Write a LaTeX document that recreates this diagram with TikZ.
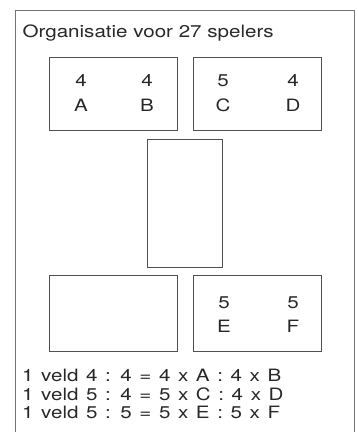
\documentclass[tikz,border=0pt]{standalone}
\usepackage{fontspec}
\setmainfont{TeX Gyre Heros}[FakeStretch=1.21]
\usetikzlibrary{positioning}
\definecolor{framecolor}{RGB}{115,115,115}
\definecolor{fieldcolor}{RGB}{80,80,80}
\definecolor{textcolor}{RGB}{40,40,40}
\newcommand{\ruimspatie}{\spaceskip 7.6pt\relax}

\begin{document}
\begin{tikzpicture}[
  x=1pt, y=-1pt,
  veld/.style={
    draw=fieldcolor,
    line width=0.9pt,
    inner sep=0pt,
    anchor=north west,
    minimum width=#1
  },
  txt/.style={
    inner sep=0pt,
    anchor=base,
    text=textcolor,
    font=\fontsize{17}{18}\selectfont
  },
  regel/.style={
    inner sep=0pt,
    anchor=base west,
    text=textcolor,
    font=\fontsize{17}{18}\selectfont\ruimspatie
  }
]
\useasboundingbox (0,0) rectangle (358,432);

% Outer frame, open at the bottom
\draw[framecolor, line width=0.9pt] (15,432) |- (354,10.5) -- (354,432);

% Title
\node[regel, font=\fontsize{17}{18}\selectfont] (titel) at (22.5,37.7) {Organisatie voor 27 spelers};

% Fields
\node[veld=127.5pt, minimum height=73.5pt] (ab) at (49.3,56.7) {};
\node[veld=128pt, minimum height=73.5pt] (cd) at (192.7,56.7) {};
\node[veld=75pt, minimum height=128pt] (mid) at (147.3,139.3) {};
\node[veld=127.5pt, minimum height=75.5pt] (leeg) at (49.3,275.2) {};
\node[veld=128pt, minimum height=75.5pt] (ef) at (192.7,275.2) {};

% Field labels
\node[txt] (n4a) at (81,86) {4};
\node[txt] (la) at (81,111.5) {A};
\node[txt] (n4b) at (147,86) {4};
\node[txt] (lb) at (147,111.5) {B};
\node[txt] (n5c) at (223,86) {5};
\node[txt] (lc) at (223,111.5) {C};
\node[txt] (n4d) at (293,86) {4};
\node[txt] (ld) at (293,111.5) {D};
\node[txt] (n5e) at (224,308.3) {5};
\node[txt] (le) at (224,332) {E};
\node[txt] (n5f) at (293,308.3) {5};
\node[txt] (lf) at (293,332) {F};

% Rules below
\node[regel] (r1) at (22,381) {1 veld 4 : 4 = 4 x A : 4 x B};
\node[regel] (r2) at (22,400) {1 veld 5 : 4 = 5 x C : 4 x D};
\node[regel] (r3) at (22,418.5) {1 veld 5 : 5 = 5 x E : 5 x F};

\end{tikzpicture}
\end{document}
